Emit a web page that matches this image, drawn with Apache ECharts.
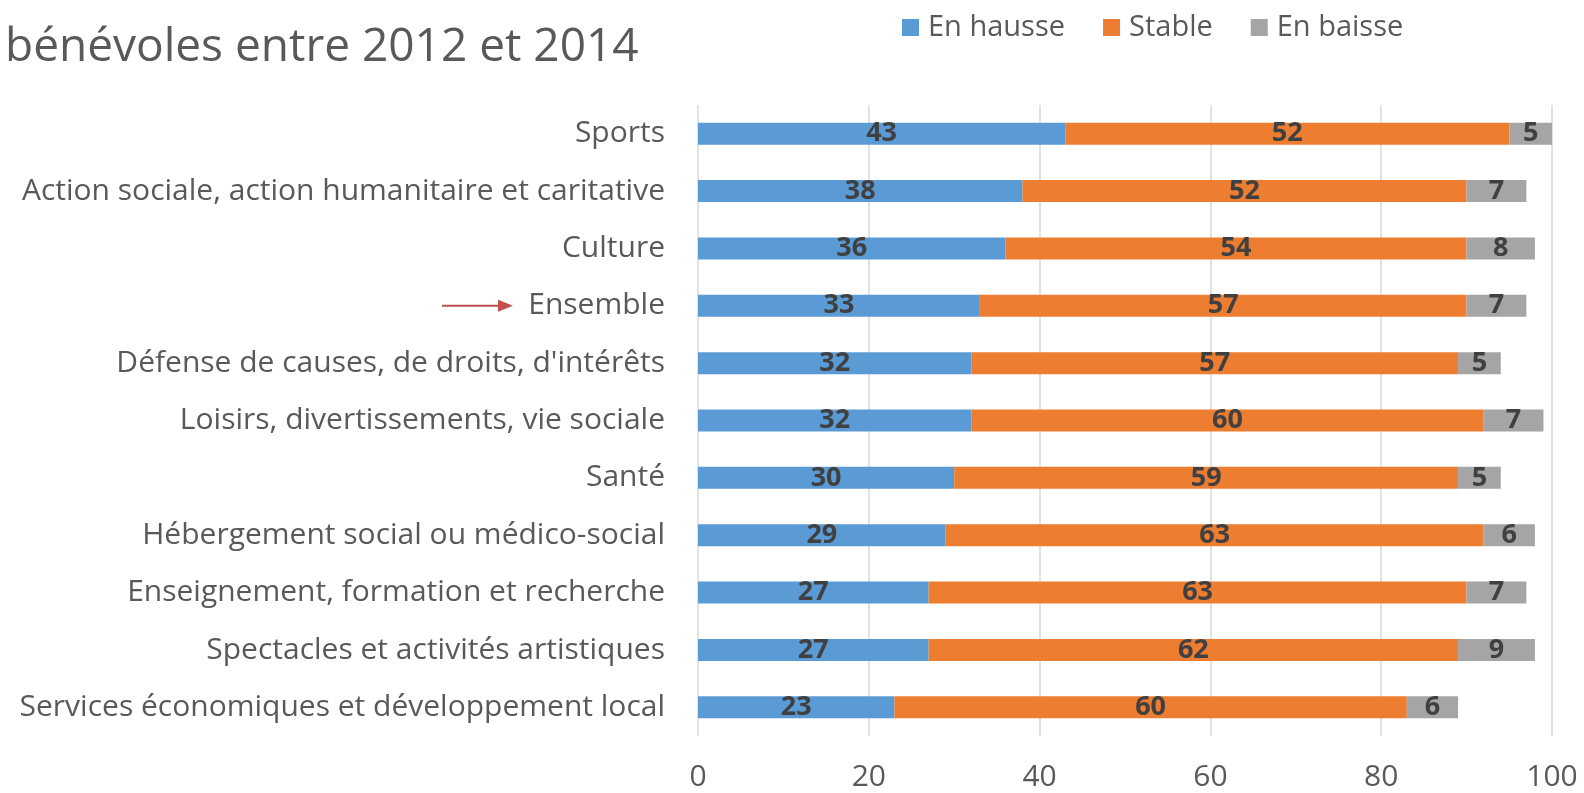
<!DOCTYPE html>
<html>
<head>
<meta charset="utf-8">
<script src="https://cdn.jsdelivr.net/npm/echarts@6/dist/echarts.min.js"></script>
<style>
  html, body { margin: 0; padding: 0; background: #fff; }
  #chart { width: 1584px; height: 793px; }
</style>
</head>
<body>
<div id="chart"></div>
<script>
const categories = [
  "Sports",
  "Action sociale, action humanitaire et caritative",
  "Culture",
  "Ensemble",
  "Défense de causes, de droits, d'intérêts",
  "Loisirs, divertissements, vie sociale",
  "Santé",
  "Hébergement social ou médico-social",
  "Enseignement, formation et recherche",
  "Spectacles et activités artistiques",
  "Services économiques et développement local",
];
const hausse = [43, 38, 36, 33, 32, 32, 30, 29, 27, 27, 23];
const stable = [52, 52, 54, 57, 57, 60, 59, 63, 63, 62, 60];
const baisse = [5, 7, 8, 7, 5, 7, 5, 6, 7, 9, 6];

const font = "'Open Sans', Lato, sans-serif";
const textColor = "#595959";

function makeSeries(name, data, color) {
  return {
    name: name,
    type: "bar",
    stack: "total",
    data: data,
    barWidth: 22,
    itemStyle: { color: color },
    label: {
      show: true,
      position: "inside",
      color: "#404040",
      fontFamily: font,
      fontWeight: "bold",
      fontSize: 27,
    },
  };
}

const chart = echarts.init(document.getElementById("chart"));
chart.setOption({
  backgroundColor: "#fff",
  animation: false,
  title: {
    text: "bénévoles entre 2012 et 2014",
    left: 0,
    top: 20,
    textStyle: { color: textColor, fontFamily: font, fontWeight: "normal", fontSize: 46 },
  },
  legend: {
    left: 897,
    top: 8,
    itemWidth: 17,
    itemHeight: 17,
    itemGap: 38,
    icon: "rect",
    textStyle: { color: textColor, fontFamily: font, fontSize: 29, padding: [0, 0, 0, 4] },
    data: ["En hausse", "Stable", "En baisse"],
  },
  grid: { left: 698, right: 32, top: 105, bottom: 57 },
  xAxis: {
    type: "value",
    min: 0,
    max: 100,
    interval: 20,
    axisLine: { show: false },
    axisTick: { show: false },
    splitLine: { lineStyle: { color: "#d9d9d9", width: 1.5 } },
    axisLabel: { color: textColor, fontFamily: font, fontSize: 30, margin: 26 },
  },
  yAxis: {
    type: "category",
    inverse: true,
    data: categories,
    axisLine: { show: false },
    axisTick: { show: false },
    axisLabel: { color: textColor, fontFamily: font, fontSize: 30, margin: 33 },
  },
  series: [
    makeSeries("En hausse", hausse, "#5b9bd5"),
    makeSeries("Stable", stable, "#ed7d31"),
    makeSeries("En baisse", baisse, "#a5a5a5"),
  ],
});

// red arrow pointing at "Ensemble"
const arrowY = chart.convertToPixel({ yAxisIndex: 0 }, "Ensemble");
chart.setOption({
  graphic: [
    {
      type: "line",
      shape: { x1: 442, y1: arrowY, x2: 500, y2: arrowY },
      style: { stroke: "#c0504d", lineWidth: 2 },
    },
    {
      type: "polygon",
      shape: { points: [[498, arrowY - 6], [513, arrowY], [498, arrowY + 6]] },
      style: { fill: "#c0504d" },
    },
  ],
});
</script>
</body>
</html>
